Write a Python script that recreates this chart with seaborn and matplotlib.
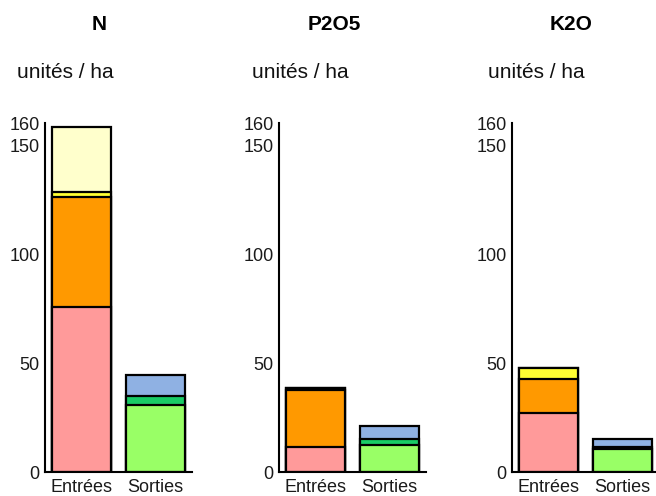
import matplotlib
matplotlib.use("Agg")
import matplotlib.pyplot as plt
import seaborn as sns
import pandas as pd
import numpy as np

sns.set_style("white")
plt.rcParams['font.family'] = ['Liberation Sans', 'DejaVu Sans']

nutrients = ["N", "P2O5", "K2O"]
categories = ["Entrées", "Sorties"]
yticks = [0, 50, 100, 150, 160]

# Entrées segments (bottom -> top)
in_pink = [76, 11.5, 27.4]
in_orange = [50, 26.3, 15.6]
in_yellow = [2.3, 0.8, 4.6]
in_lightyellow = [30, 0, 0]
# Sorties segments (bottom -> top)
out_green = [31, 12.5, 10.5]
out_darkgreen = [4, 2.8, 1.0]
out_blue = [9.6, 5.7, 3.8]

in_colors = ["#ff9a9a", "#ff9900", "#ffff33", "#ffffcc"]
out_colors = ["#99ff66", "#19cc66", "#8fb1e3"]

fig = plt.figure(figsize=(6.56, 4.96), dpi=100)
W, H = 656, 496
lefts = [45, 279, 512]
title_x = [99.5, 334, 571]
unit_x = [17, 252, 488]

for i, nut in enumerate(nutrients):
    ax = fig.add_axes([lefts[i] / W, (H - 472.3) / H, 147 / W, 349 / H])
    ins = [in_pink[i], in_orange[i], in_yellow[i], in_lightyellow[i]]
    outs = [out_green[i], out_darkgreen[i], out_blue[i]]
    cin = np.cumsum(ins)
    cout = np.cumsum(outs)
    # draw from top layer down so lower layers overlay
    n_layers = max(len(ins), len(outs))
    for k in range(n_layers - 1, -1, -1):
        vals = []
        cols = []
        if k < len(ins):
            vals.append(cin[k]); cols.append(in_colors[k])
        else:
            vals.append(0); cols.append("white")
        if k < len(outs):
            vals.append(cout[k]); cols.append(out_colors[k])
        else:
            vals.append(0); cols.append("white")
        df = pd.DataFrame({"cat": categories, "val": vals})
        sns.barplot(data=df, x="cat", y="val", hue="cat", palette=cols,
                    order=categories, hue_order=categories, legend=False,
                    edgecolor="black", linewidth=1.6, width=0.8, ax=ax,
                    saturation=1)
    ax.set_xlim(-0.5, 1.5)
    ax.set_ylim(0, 160)
    ax.set_yticks(yticks)
    ax.set_yticklabels([str(t) for t in yticks])
    ax.set_xlabel("")
    ax.set_ylabel("")
    for s in ["top", "right"]:
        ax.spines[s].set_visible(False)
    for s in ["left", "bottom"]:
        ax.spines[s].set_linewidth(1.5)
        ax.spines[s].set_color("black")
    ax.tick_params(axis="y", direction="in", length=4, width=1.5, labelsize=13, pad=4, colors="black")
    ax.tick_params(axis="y", labelcolor="#1a1a1a")
    ax.tick_params(axis="x", which="major", length=0, labelsize=13, pad=5, labelcolor="#1a1a1a")
    ax.set_xticks([0.5, 1.5], minor=True)
    ax.tick_params(axis="x", which="minor", direction="in", length=5, width=1.5, colors="black")
    ax.patch.set_alpha(0)

    fig.text(title_x[i] / W, 1 - 24.7 / H, nut, fontsize=15, fontweight="bold",
             ha="center", va="center", color="black")
    fig.text(unit_x[i] / W, 1 - 73 / H, "unités / ha", fontsize=15,
             ha="left", va="center", color="#111111")

fig.savefig("out.png", dpi=100)
